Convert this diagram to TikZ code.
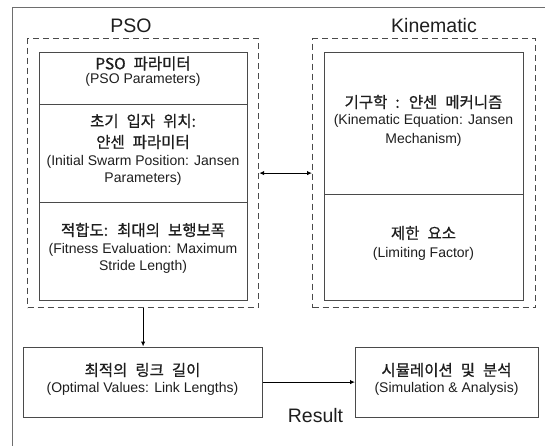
\documentclass[tikz,border=0pt]{standalone}
\usepackage{fontspec}
\setmainfont{Liberation Sans}
\newfontfamily\kr{Noto Sans CJK KR}[WordSpace=2.3, FakeBold=0.8]
\usetikzlibrary{arrows.meta}

\definecolor{edge}{HTML}{4A4A4A}
\definecolor{ink}{HTML}{1E1E1E}

\tikzset{
  frame/.style={draw=edge!80, line width=0.9pt},
  group/.style={draw=edge, line width=1.2pt, dash pattern=on 6pt off 4pt,
                rectangle, inner sep=0pt, anchor=north west},
  cell/.style={draw=edge, line width=1.2pt, rectangle, inner sep=0pt, anchor=north west},
  title/.style={font=\fontsize{19.5}{22}\selectfont, text=ink, inner sep=0pt},
  krtext/.style={font=\kr\fontsize{15.5}{18}\selectfont, text=ink, inner sep=0pt},
  entext/.style={font=\fontsize{14}{16}\selectfont, text=ink, inner sep=0pt},
  link/.style={draw=black, line width=1.1pt, -{Latex[length=5pt,width=4.5pt]}},
  twoway/.style={draw=black, line width=1.1pt, {Latex[length=5pt,width=4.5pt]}-{Latex[length=5pt,width=4.5pt]}}
}

\begin{document}
\begin{tikzpicture}[x=1pt, y=-1pt]
\useasboundingbox (0,0) rectangle (545,446);

% outer frame
\draw[frame] (546,7) -- (12,7) -- (12,447);

% group titles
\node[title] (tpso) at (131,26) {PSO};
\node[title] (tkin) at (434,26) {Kinematic};

% dashed groups
\node[group, minimum width=231pt, minimum height=269pt] (psog) at (27,38) {};
\node[group, minimum width=223pt, minimum height=269pt] (king) at (312,38) {};

% PSO column
\node[cell, minimum width=208pt, minimum height=52pt] (pa) at (39,52) {};
\node[cell, minimum width=208pt, minimum height=98pt] (pb) at (39,104) {};
\node[cell, minimum width=208pt, minimum height=98pt] (pc) at (39,202) {};

\node[krtext] (pa1) at (143,63.5) {PSO 파라미터};
\node[entext] (pa2) at (143,79.5) {(PSO Parameters)};

\node[krtext] (pb1) at (143,121) {초기 입자 위치:};
\node[krtext] (pb2) at (143,142) {얀센 파라미터};
\node[entext] (pb3) at (143,162) {(Initial Swarm Position: Jansen};
\node[entext] (pb4) at (143,178.5) {Parameters)};

\node[krtext] (pc1) at (143,230) {적합도: 최대의 보행보폭};
\node[entext] (pc2) at (143,249.5) {(Fitness Evaluation: Maximum};
\node[entext] (pc3) at (143,266.5) {Stride Length)};

% Kinematic column
\node[cell, minimum width=199pt, minimum height=142pt] (ka) at (324,52) {};
\node[cell, minimum width=199pt, minimum height=106pt] (kb) at (324,194) {};

\node[krtext] (ka1) at (423.5,102) {기구학 : 얀센 메커니즘};
\node[entext] (ka2) at (423.5,121) {(Kinematic Equation: Jansen};
\node[entext] (ka3) at (423.5,139.5) {Mechanism)};

\node[krtext] (kb1) at (423.5,233) {제한 요소};
\node[entext] (kb2) at (423.5,254) {(Limiting Factor)};

% result boxes
\node[cell, minimum width=239pt, minimum height=70pt] (opt) at (23,346.5) {};
\node[krtext] (opt1) at (142.5,370) {최적의 링크 길이};
\node[entext] (opt2) at (142.5,389) {(Optimal Values: Link Lengths)};

\node[cell, minimum width=183pt, minimum height=70pt] (sim) at (355,346.5) {};
\node[krtext] (sim1) at (446.5,370) {시뮬레이션 및 분석};
\node[entext] (sim2) at (446.5,388.5) {(Simulation \& Analysis)};

\node[title] (res) at (315.5,416) {Result};

% connectors
\draw[twoway] (psog.east) -- (king.west);
\draw[link] (psog.south) -- (opt.north);
\draw[link] (opt.east) -- (sim.west);
\end{tikzpicture}
\end{document}
